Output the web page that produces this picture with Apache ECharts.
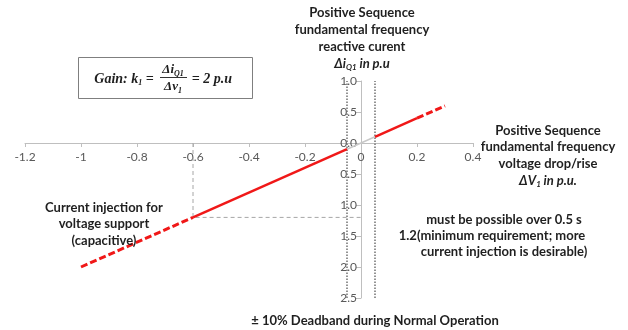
<!DOCTYPE html>
<html><head><meta charset="utf-8">
<script src="https://cdn.jsdelivr.net/npm/echarts@6/dist/echarts.min.js"></script>
<style>html,body{margin:0;padding:0;background:#fff}#c{width:628px;height:330px}</style>
</head><body><div id="c"></div>
<script>
// ---- data ----
const xTicks = ['-1.2','-1','-0.8','-0.6','-0.4','-0.2','0','0.2','0.4'];
const yTicks = ['2.5','2.0','1.5','1.0','0.5','0.0','0.5','1.0'];
const redDashLow = [[-1.0,-2.0],[-0.6,-1.2]];
const redSolidLow = [[-0.6,-1.2],[-0.05,-0.1]];
const deadbandSeg = [[-0.05,-0.1],[0.05,0.1]];
const redSolidHigh = [[0.05,0.1],[0.2,0.4]];
const redDashHigh = [[0.2,0.4],[0.3,0.6]];
const deadbandEdges = [-0.05, 0.05];
const minReqGuide = [[-0.6,0],[-0.6,-1.2],[0,-1.2]];
const xMin = -1.2, xMax = 0.4, xStep = 0.2;
const yMin = -2.5, yMax = 1.0, yStep = 0.5;

// ---- layout ----
const G = {left: 25, right: 155, top: 81, bottom: 32};
const W = 628, H = 330;
const gw = W - G.left - G.right, gh = H - G.top - G.bottom;
const xAxisOffset = -((0 - yMin) / (yMax - yMin)) * gh;   // move x axis up to y=0
const yAxisOffset = -((0 - xMin) / (xMax - xMin)) * gw;   // move y axis right to x=0

const chart = echarts.init(document.getElementById('c'));
const F = 'Lato, "Open Sans", sans-serif';
const SERIF = '"Liberation Serif", "DejaVu Serif", serif';
const txt = '#1f1f1f';
const ctext = (x, y, text, extra) => ({
  type: 'text', x: x, y: y, z: 20,
  style: Object.assign({text: text, font: 'bold 13px ' + F, fill: txt,
    align: 'center', verticalAlign: 'middle', textAlign: 'center', textVerticalAlign: 'middle'}, extra || {})
});
const lineSeries = (data, color, width, type, z) => ({
  type: 'line', data: data, symbol: 'none', silent: true, z: z || 2,
  lineStyle: {color: color, width: width, type: type, cap: 'butt'}
});
const subRich = (size, sub, font) => ({
  a: {font: 'bold italic ' + size + 'px ' + font, fill: txt},
  s: {font: 'bold italic ' + sub + 'px ' + font, fill: txt, padding: [7,0,0,0]}
});

const series = [lineSeries(minReqGuide, '#a6a6a6', 1, [4,3], 1)];
deadbandEdges.forEach(x => series.push(lineSeries([[x, yMin],[x, yMax]], '#6f6f6f', 1.5, [1.5,1.5], 1)));
series.push(lineSeries(deadbandSeg, '#c8c8c8', 1.5, 'solid', 2));
series.push(lineSeries(redDashLow, '#f01818', 3, [7,3], 3));
series.push(lineSeries(redSolidLow, '#f01818', 2.5, 'solid', 3));
series.push(lineSeries(redSolidHigh, '#f01818', 2.5, 'solid', 3));
series.push(lineSeries(redDashHigh, '#f01818', 3, [7,3], 3));

chart.setOption({
  animation: false,
  backgroundColor: '#fff',
  grid: Object.assign({containLabel: false}, G),
  xAxis: {
    type: 'value', min: xMin, max: xMax, interval: xStep, position: 'bottom', offset: xAxisOffset,
    axisLine: {onZero: false, lineStyle: {color: '#bfbfbf', width: 1}},
    axisTick: {show: true, length: 4, lineStyle: {color: '#bfbfbf'}},
    splitLine: {show: false},
    axisLabel: {margin: 8, color: '#595959', fontFamily: F, fontSize: 12,
      formatter: v => xTicks[Math.round((v - xMin) / xStep)]}
  },
  yAxis: {
    type: 'value', min: yMin, max: yMax, interval: yStep, position: 'left', offset: yAxisOffset,
    axisLine: {onZero: false, lineStyle: {color: '#bfbfbf', width: 1}},
    axisTick: {show: true, length: 5, lineStyle: {color: '#bfbfbf'}},
    splitLine: {show: false},
    axisLabel: {margin: 4, color: '#595959', fontFamily: F, fontSize: 12,
      formatter: v => yTicks[Math.round((v - yMin) / yStep)]}
  },
  series: series,
  graphic: [
    ctext(362, 13, 'Positive Sequence'),
    ctext(362, 30, 'fundamental frequency'),
    ctext(362, 47, 'reactive curent'),
    ctext(362, 64, '{a|Δi}{s|Q1}{a| in p.u}', {rich: subRich(13, 8, F)}),
    ctext(548, 131, 'Positive Sequence'),
    ctext(548, 147, 'fundamental frequency'),
    ctext(548, 164, 'voltage drop/rise'),
    ctext(548, 181, '{a|ΔV}{s|1}{a| in p.u.}', {rich: subRich(13, 8, F)}),
    ctext(104, 208, 'Current injection for'),
    ctext(104, 224, 'voltage support'),
    ctext(104, 241, '(capacitive)'),
    ctext(504, 220, 'must be possible over 0.5 s'),
    ctext(492, 236, '1.2(minimum requirement; more'),
    ctext(504, 252, 'current injection is desirable)'),
    ctext(375, 321, '± 10% Deadband during Normal Operation'),
    {type: 'rect', shape: {x: 78.5, y: 57.5, width: 174, height: 41},
     style: {fill: '#fff', stroke: '#7f7f7f', lineWidth: 1}, z: 10},
    ctext(124, 79, '{a|Gain: k}{s|1}{a| =}', {rich: subRich(14, 8, SERIF)}),
    ctext(173, 70, '{a|Δi}{s|Q1}', {rich: subRich(13, 8, SERIF)}),
    {type: 'line', z: 21, shape: {x1: 160, y1: 77.5, x2: 187, y2: 77.5}, style: {stroke: '#333', lineWidth: 1}},
    ctext(173, 87, '{a|Δv}{s|1}', {rich: subRich(13, 8, SERIF)}),
    ctext(212, 79, '= 2 p.u', {font: 'bold italic 14px ' + SERIF})
  ]
});
</script></body></html>
